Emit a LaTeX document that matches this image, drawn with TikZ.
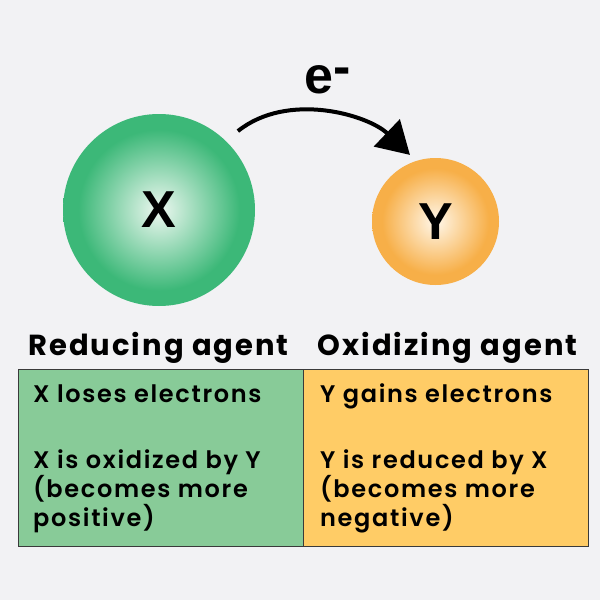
\documentclass[tikz,border=0pt]{standalone}
\usepackage{fontspec}
\setmainfont{Poppins}[UprightFont=* SemiBold, BoldFont=* Bold]
\newfontfamily\headfont{Poppins}[UprightFont=* Bold, LetterSpace=7]
\newfontfamily\bodyfont{Poppins}[UprightFont=* SemiBold, LetterSpace=7]
\newfontfamily\ballfont{Liberation Sans}
\usetikzlibrary{arrows.meta,calc,positioning}

\definecolor{bg}{HTML}{F2F2F4}
\definecolor{xedge}{HTML}{3CB878}
\definecolor{xcore}{HTML}{EEF8F1}
\definecolor{yedge}{HTML}{F7AF48}
\definecolor{ycore}{HTML}{FFF7EA}
\definecolor{redfill}{HTML}{88CB98}
\definecolor{oxfill}{HTML}{FFCC66}
\definecolor{cellline}{HTML}{3A3A3A}

\pgfdeclareradialshading{xball}{\pgfpoint{0bp}{0bp}}{color(0bp)=(xcore); color(21bp)=(xedge); color(25bp)=(xedge); color(50bp)=(xedge)}
\pgfdeclareradialshading{yball}{\pgfpoint{0bp}{0bp}}{color(0bp)=(ycore); color(21bp)=(yedge); color(25bp)=(yedge); color(50bp)=(yedge)}

\begin{document}
\begin{tikzpicture}[x=1pt, y=-1pt,
  ball/.style={circle, inner sep=0pt, font=\ballfont\bfseries\fontsize{52}{52}\selectfont},
  cell/.style={draw=cellline, line width=1pt, minimum width=285pt, minimum height=177pt, inner sep=0pt},
  head/.style={font=\headfont\fontsize{29}{34}\selectfont, inner sep=0pt},
  body/.style={font=\bodyfont\fontsize{24}{29}\selectfont, align=left, inner sep=0pt}]
  \fill[bg] (0,0) rectangle (600,600);

  % agents
  \node[ball, minimum size=192pt, shading=xball] (x) at (159,210) {X};
  \node[ball, minimum size=127pt, shading=yball] (y) at (435.5,221.5) {Y};

  % electron transfer
  \draw[line width=4pt, -{Triangle[length=32pt, width=37pt]}]
    ($(x.center)!1.16!(x.45)$) .. controls +(50,-40) and +(-42,-40) .. ($(y.center)!1.12!(y.111)$);
  \node[ball, anchor=base west] (elec) at (300,93) {e\raisebox{.16em}{-}};

  % table
  \node[cell, fill=redfill] (redcell) at (160.5,457.5) {};
  \node[cell, fill=oxfill] (oxcell) at (445.5,457.5) {};
  \node[head, anchor=base] (redhead) at (158.5,355) {Reducing agent};
  \node[head, anchor=base] (oxhead) at (447.5,355) {Oxidizing agent};

  \node[body, anchor=base west] (xloses) at (33,402) {X loses electrons};
  \node[body, anchor=base west] (xoxid) at (33,526) {X is oxidized by Y\\(becomes more\\positive)};
  \node[body, anchor=base west] (ygains) at (320,402) {Y gains electrons};
  \node[body, anchor=base west] (yred) at (320,526) {Y is reduced by X\\(becomes more\\negative)};
\end{tikzpicture}
\end{document}
